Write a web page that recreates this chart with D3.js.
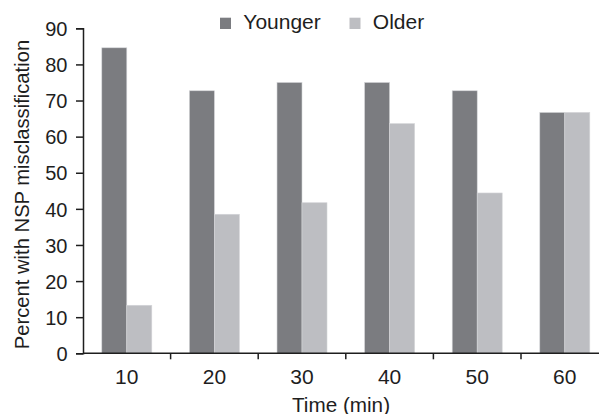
<!DOCTYPE html>
<html>
<head>
<meta charset="utf-8">
<script src="https://cdn.jsdelivr.net/npm/d3@7"></script>
<style>
  html, body { margin: 0; padding: 0; background: #fff; }
  svg { display: block; font-family: "Liberation Sans", Arial, Helvetica, sans-serif; }
</style>
</head>
<body>
<svg id="chart" width="599" height="414"></svg>
<script>
// Misclassification rate by time point, two age groups
const categories = ["10", "20", "30", "40", "50", "60"];
const younger = [84.6, 72.7, 75.0, 75.0, 72.7, 66.7];
const older = [13.3, 38.5, 41.7, 63.6, 44.4, 66.7];
const seriesNames = ["Younger", "Older"];
const yTicks = [0, 10, 20, 30, 40, 50, 60, 70, 80, 90];

const colors = { Younger: "#7b7c80", Older: "#bdbec2" };
const ink = "#1e1e1e";

const svg = d3.select("#chart");
const plotLeft = 83, plotTop = 28.3, plotBottom = 353.3;
const plotRight = plotLeft + 6 * 87.6; // plot runs past the right edge of the view

const x = d3.scaleBand().domain(categories).range([plotLeft, plotRight]).paddingInner(0).paddingOuter(0);
const x1 = d3.scaleBand().domain(seriesNames).range([0, 50]);
const y = d3.scaleLinear().domain([0, 90]).range([plotBottom, plotTop]);

const rows = categories.map((c, i) => ({ cat: c, Younger: younger[i], Older: older[i] }));

// bars
const g = svg.append("g");
const groups = g.selectAll("g.grp").data(rows).join("g")
  .attr("class", "grp")
  .attr("transform", d => `translate(${x(d.cat) + x.bandwidth() / 2 - 25},0)`);

groups.selectAll("rect").data(d => seriesNames.map(s => ({ s, v: d[s] }))).join("rect")
  .attr("x", d => x1(d.s))
  .attr("width", x1.bandwidth())
  .attr("y", d => y(d.v))
  .attr("height", d => y(0) - y(d.v))
  .attr("fill", d => colors[d.s])
  .attr("stroke", "#d4d5d8")
  .attr("stroke-width", 0.6);

// y axis
const yAxis = svg.append("g")
  .attr("transform", `translate(${plotLeft},0)`)
  .call(d3.axisLeft(y).tickValues(yTicks).tickSize(7).tickPadding(8.5));
yAxis.attr("font-family", null).attr("font-size", null);
yAxis.selectAll("text").attr("font-size", 20).attr("fill", ink).attr("dy", "0.36em");
yAxis.select(".domain").attr("stroke", ink).attr("stroke-width", 1.5);
yAxis.selectAll(".tick line").attr("stroke", ink).attr("stroke-width", 1.5);

// x axis: ticks sit between groups
const xAxisG = svg.append("g").attr("transform", `translate(0,${plotBottom})`);
xAxisG.append("line")
  .attr("x1", plotLeft).attr("x2", plotRight)
  .attr("y1", 0).attr("y2", 0)
  .attr("stroke", ink).attr("stroke-width", 1.5);
xAxisG.selectAll("line.sep").data(categories.slice(1)).join("line")
  .attr("class", "sep")
  .attr("x1", d => x(d)).attr("x2", d => x(d))
  .attr("y1", 0).attr("y2", 6)
  .attr("stroke", ink).attr("stroke-width", 1.5);
xAxisG.selectAll("text").data(categories).join("text")
  .attr("x", d => x(d) + x.bandwidth() / 2)
  .attr("y", 31)
  .attr("text-anchor", "middle")
  .attr("font-size", 21)
  .attr("fill", ink)
  .text(d => d);

// axis titles
svg.append("text")
  .attr("x", 341).attr("y", 411.5)
  .attr("text-anchor", "middle")
  .attr("font-size", 20.7)
  .attr("fill", ink)
  .text("Time (min)");

svg.append("text")
  .attr("transform", `translate(29,194.5) rotate(-90)`)
  .attr("text-anchor", "middle")
  .attr("font-size", 20.2)
  .attr("fill", ink)
  .text("Percent with NSP misclassification");

// legend
const legendX = [220, 349.5];
const legend = svg.append("g");
seriesNames.forEach((s, i) => {
  legend.append("rect")
    .attr("x", legendX[i]).attr("y", 17.7)
    .attr("width", 11).attr("height", 11.3)
    .attr("fill", colors[s]);
  legend.append("text")
    .attr("x", legendX[i] + 23.3).attr("y", 28.5)
    .attr("font-size", 21)
    .attr("fill", ink)
    .text(s);
});
</script>
</body>
</html>
